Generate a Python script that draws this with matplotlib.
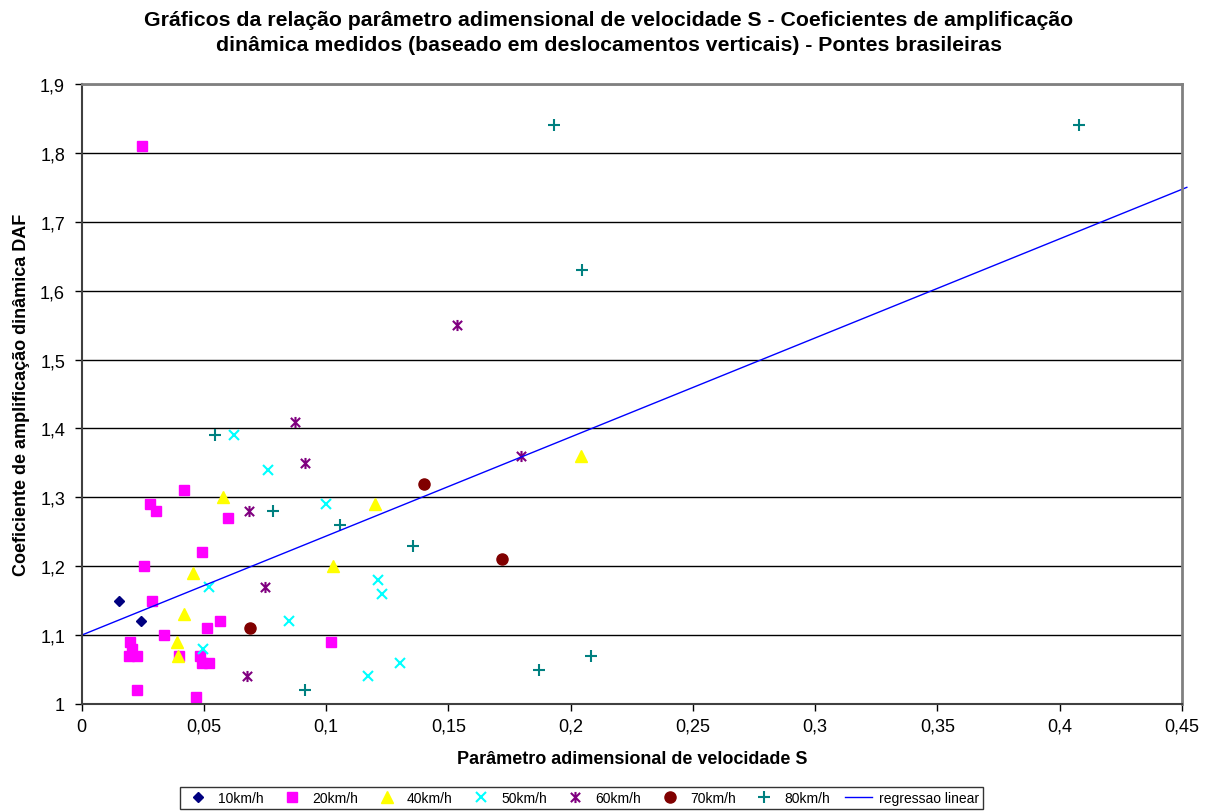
import numpy as np
import matplotlib
matplotlib.use("Agg")
import matplotlib.pyplot as plt
from matplotlib.path import Path
from matplotlib.ticker import FuncFormatter, MultipleLocator

plt.rcParams['font.family'] = ['Liberation Sans', 'DejaVu Sans']

# data (S, DAF)
s_10 = [0.0151, 0.0244]
daf_10 = [1.15, 1.12]

s_20 = [0.0248, 0.0418, 0.0278, 0.0303, 0.0599, 0.0493, 0.0256, 0.0289, 0.0566, 0.0511,
        0.0338, 0.0196, 0.1020, 0.0205, 0.0192, 0.0226, 0.0399, 0.0484, 0.0493, 0.0521,
        0.0226, 0.0466]
daf_20 = [1.81, 1.31, 1.29, 1.28, 1.27, 1.22, 1.20, 1.15, 1.12, 1.11,
          1.10, 1.09, 1.09, 1.08, 1.07, 1.07, 1.07, 1.07, 1.06, 1.06,
          1.02, 1.01]

s_40 = [0.0579, 0.1199, 0.0455, 0.1027, 0.0418, 0.0390, 0.0395, 0.2044]
daf_40 = [1.30, 1.29, 1.19, 1.20, 1.13, 1.09, 1.07, 1.36]

s_50 = [0.0623, 0.0760, 0.1001, 0.0520, 0.0849, 0.0497, 0.1170, 0.1213, 0.1229, 0.1302]
daf_50 = [1.39, 1.34, 1.29, 1.17, 1.12, 1.08, 1.04, 1.18, 1.16, 1.06]

s_60 = [0.0873, 0.0914, 0.0685, 0.0749, 0.0678, 0.1533, 0.1796]
daf_60 = [1.41, 1.35, 1.28, 1.17, 1.04, 1.55, 1.36]

s_70 = [0.0688, 0.1398, 0.1719]
daf_70 = [1.11, 1.32, 1.21]

s_80 = [0.0544, 0.0784, 0.1055, 0.0914, 0.1356, 0.1869, 0.2082, 0.1932, 0.2045, 0.4080]
daf_80 = [1.39, 1.28, 1.26, 1.02, 1.23, 1.05, 1.07, 1.84, 1.63, 1.84]

s_reg = [0.0, 0.452]
daf_reg = [1.10, 1.75]

# Excel-like star marker: X with a vertical bar
star = Path([(-1, -1), (1, 1), (-1, 1), (1, -1), (0, -1.2), (0, 1.2)],
            [Path.MOVETO, Path.LINETO, Path.MOVETO, Path.LINETO, Path.MOVETO, Path.LINETO])

fig = plt.figure(figsize=(12.18, 8.12), dpi=100)
ax = fig.add_axes([0.0671, 0.1318, 0.9033, 0.7635])

ax.plot(s_10, daf_10, ls='none', marker='D', ms=5.5, color='#000080', label='10km/h')
ax.plot(s_20, daf_20, ls='none', marker='s', ms=7.5, color='#FF00FF', label='20km/h')
ax.plot(s_40, daf_40, ls='none', marker='^', ms=8.5, color='#FFFF00', label='40km/h')
ax.plot(s_50, daf_50, ls='none', marker='x', ms=7.5, mew=1.5, color='#00FFFF', label='50km/h')
ax.plot(s_60, daf_60, ls='none', marker=star, ms=8, mew=1.5, color='#800080', label='60km/h')
ax.plot(s_70, daf_70, ls='none', marker='o', ms=8, color='#800000', label='70km/h')
ax.plot(s_80, daf_80, ls='none', marker='+', ms=8.5, mew=1.5, color='#008080', label='80km/h')
ax.plot(s_reg, daf_reg, color='#0000FF', lw=1, label='regressao linear', clip_on=False)

ax.set_xlim(0, 0.45)
ax.set_ylim(1, 1.9)
ax.xaxis.set_major_locator(MultipleLocator(0.05))
ax.yaxis.set_major_locator(MultipleLocator(0.1))
comma = FuncFormatter(lambda v, p: ('%g' % round(v, 3)).replace('.', ','))
ax.xaxis.set_major_formatter(comma)
ax.yaxis.set_major_formatter(comma)
ax.tick_params(labelsize=13, direction='out', length=5, width=1, color='black')
ax.tick_params(axis='x', pad=5)
ax.tick_params(axis='y', pad=7)
ax.grid(axis='y', color='black', lw=1)
ax.set_axisbelow(True)

for side in ['top', 'right']:
    ax.spines[side].set_color('#808080')
    ax.spines[side].set_linewidth(2)
for side in ['left', 'bottom']:
    ax.spines[side].set_color('#404040')
    ax.spines[side].set_linewidth(1.5)

ax.set_xlabel('Parâmetro adimensional de velocidade S', fontsize=13, fontweight='bold', labelpad=11)
ax.set_ylabel('Coeficiente de amplificação dinâmica DAF', fontsize=13, fontweight='bold', labelpad=7)
fig.suptitle('Gráficos da relação parâmetro adimensional de velocidade S - Coeficientes de amplificação\n'
             'dinâmica medidos (baseado em deslocamentos verticais) - Pontes brasileiras',
             fontsize=15.3, fontweight='bold', y=0.987, linespacing=1.45)

leg = fig.legend(loc='lower center', bbox_to_anchor=(0.4774, -0.006), ncol=8, fontsize=10,
                 frameon=True, fancybox=False, edgecolor='black', handlelength=2.0,
                 handletextpad=0.45, columnspacing=1.05, borderpad=0.3, numpoints=1,
                 markerscale=1.0)
leg.get_frame().set_linewidth(1)

fig.savefig('out.png', dpi=100)
